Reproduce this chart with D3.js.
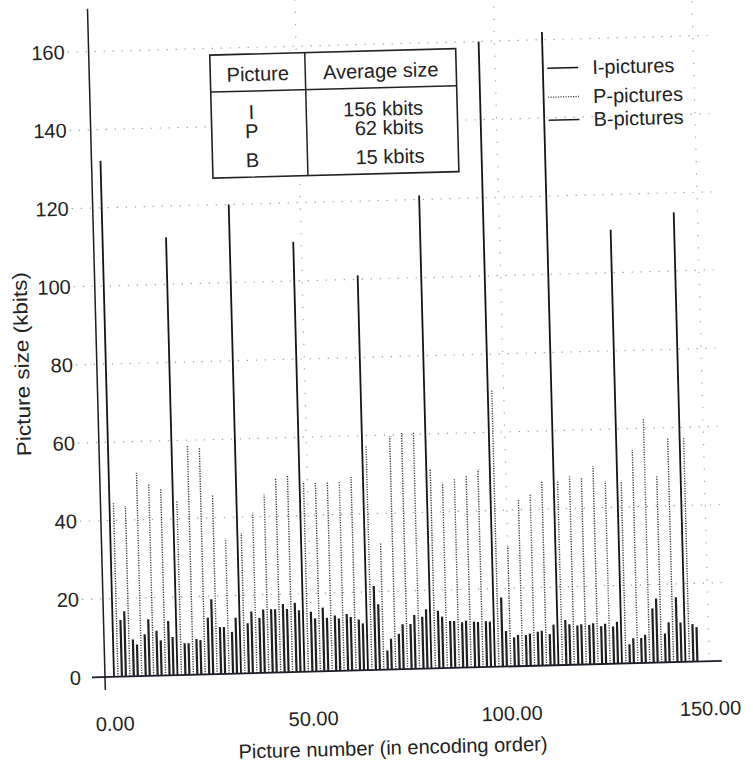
<!DOCTYPE html>
<html>
<head>
<meta charset="utf-8">
<script src="https://cdn.jsdelivr.net/npm/d3@7"></script>
<style>
  body { margin: 0; background: #fff; }
  svg { display: block; }
  text { font-family: "Liberation Sans", Arial, Helvetica, sans-serif; fill: #222; }
</style>
</head>
<body>
<div id="chart"></div>
<script>
// GOP structure in encoding order (one letter per picture)
var gopPattern = "IPBBPBBPBBPBBPBB";

// picture sizes in kbits, in encoding order per type
var iSizes = [132, 112, 120, 110, 101, 121, 160, 162, 111, 115];
var pSizes = [
  44.4, 43.6, 52, 49, 47.9,
  44.4, 58.5, 58.1, 45.7, 34.6,
  35.9, 41, 45.6, 49.6, 50.4,
  48.7, 48.2, 48.4, 48.2, 49.5,
  57.5, 32.6, 59.6, 60.4, 60.7,
  50.8, 47.4, 48.2, 49.2, 50.6,
  71, 30.9, 42.5, 43.9, 47,
  47.2, 48.2, 47.7, 50.7, 46.8,
  46.7, 54.5, 62.6, 47.6, 57.4,
  57.6
];
var bSizes = [
  14.5, 16.7, 9.4, 8.1, 10.7, 14.5, 11.5, 9, 13.9, 9.8,
  8.1, 8.1, 9.1, 8.8, 14.5, 19.2, 12, 12, 10.7, 14.3,
  12.8, 15.8, 14.1, 16.2, 16.2, 16.2, 17.5, 16.2, 17.7, 15.8,
  15.3, 13.6, 16.3, 13.7, 14.2, 13.4, 14.5, 13.7, 13, 12,
  21.5, 16.8, 4.9, 7.9, 9.1, 11.5, 11.5, 13.8, 13.3, 15.2,
  14.7, 13.2, 12, 12, 11.6, 12, 11.7, 11.6, 11.7, 11.6,
  17.7, 9.1, 7.4, 8, 7.9, 8.3, 8.7, 8.9, 8, 10.4,
  11.5, 10.4, 10, 10.3, 10.1, 10.5, 9.7, 10.3, 9.5, 10.7,
  4.9, 6.4, 6.4, 7.2, 13.9, 16.4, 7.4, 10.2, 16.6, 10.1,
  9.6, 8.8
];

var yTicks = [0, 20, 40, 60, 80, 100, 120, 140, 160];
var xTicks = [0, 50, 100, 150];
var xTickLabels = ["0.00", "50.00", "100.00", "150.00"];
var xTitle = "Picture number (in encoding order)";
var yTitle = "Picture size (kbits)";

var tableHead = ["Picture", "Average size"];
var tableTypes = ["I", "P", "B"];
var tableAvg = ["156 kbits", "62 kbits", "15 kbits"];

var legendTypes = ["I", "P", "B"];
var legendLabels = ["I-pictures", "P-pictures", "B-pictures"];

// build the picture sequence from the per-type lists
var pictures = [];
(function () {
  var idx = { I: 0, P: 0, B: 0 };
  var src = { I: iSizes, P: pSizes, B: bSizes };
  for (var n = 0; ; n++) {
    var t = gopPattern[n % gopPattern.length];
    if (idx[t] >= src[t].length) break;
    pictures.push({ n: n, type: t, kbits: src[t][idx[t]++] });
  }
})();

var width = 753, height = 765;
var x0 = 107, y0 = 677;   // axis corner (scan is slightly tilted about it)

var x = d3.scaleLinear().domain([0, 150]).range([114, 709.5]);
var y = d3.scaleLinear().domain([0, 160]).range([y0, 51.4]);

var style = {
  I: { stroke: "#151515", width: 1.8, dash: null },
  P: { stroke: "#3a3a3a", width: 1.4, dash: "1.2,1.3" },
  B: { stroke: "#1f1f1f", width: 2.2, dash: null }
};

var svg = d3.select("#chart").append("svg")
    .attr("width", width)
    .attr("height", height);

var g = svg.append("g")
    .attr("transform", "rotate(-1.5," + x0 + "," + y0 + ")");

// dotted grid
g.append("g").selectAll("line").data(yTicks.slice(1)).enter().append("line")
    .attr("x1", 84).attr("x2", 724)
    .attr("y1", function (d) { return y(d); })
    .attr("y2", function (d) { return y(d); })
    .style("stroke", "#a0a0a0").style("stroke-width", 1.2)
    .style("stroke-dasharray", "1.3,7.7");

g.append("g").selectAll("line").data(xTicks.slice(1)).enter().append("line")
    .attr("x1", function (d) { return x(d); })
    .attr("x2", function (d) { return x(d); })
    .attr("y1", y(172)).attr("y2", y(0))
    .style("stroke", "#a8a8a8").style("stroke-width", 1.2)
    .style("stroke-dasharray", "1.3,11");

// picture sizes
g.append("g").selectAll("line").data(pictures).enter().append("line")
    .attr("x1", function (d) { return x(d.n); })
    .attr("x2", function (d) { return x(d.n); })
    .attr("y1", y(0))
    .attr("y2", function (d) { return y(d.kbits); })
    .style("stroke", function (d) { return style[d.type].stroke; })
    .style("stroke-width", function (d) { return style[d.type].width; })
    .style("stroke-dasharray", function (d) { return style[d.type].dash; });

// axes lines
g.append("line")
    .attr("x1", 92).attr("x2", 722)
    .attr("y1", y(0)).attr("y2", y(0))
    .style("stroke", "#1d1d28").style("stroke-width", 1.8);
g.append("line")
    .attr("x1", x0 - 2).attr("x2", x0 - 2)
    .attr("y1", y(171)).attr("y2", y(-3.3))
    .style("stroke", "#1d1d1d").style("stroke-width", 1.5);

// y tick labels
g.append("g").selectAll("text").data(yTicks).enter().append("text")
    .attr("x", 81)
    .attr("y", function (d) { return y(d); })
    .attr("dy", "0.35em")
    .attr("text-anchor", "end")
    .style("font-size", "20px")
    .text(function (d) { return d; });

// x tick labels
g.append("g").selectAll("text").data(xTicks).enter().append("text")
    .attr("x", function (d) { return x(d); })
    .attr("y", 731)
    .attr("text-anchor", "middle")
    .style("font-size", "20px")
    .text(function (d, i) { return xTickLabels[i]; });

// axis titles
g.append("text")
    .attr("x", 391).attr("y", 762)
    .attr("text-anchor", "middle")
    .style("font-size", "20px")
    .text(xTitle);

g.append("text")
    .attr("transform", "translate(37,362) rotate(-90)")
    .attr("text-anchor", "middle")
    .attr("textLength", 184)
    .attr("lengthAdjust", "spacingAndGlyphs")
    .style("font-size", "20px")
    .text(yTitle);

// average size table
var tb = g.append("g");
tb.append("rect")
    .attr("x", 226).attr("y", 58).attr("width", 246).attr("height", 123)
    .style("fill", "#fff").style("stroke", "#222").style("stroke-width", 1.6);
tb.append("line").attr("x1", 321).attr("x2", 321).attr("y1", 58).attr("y2", 181)
    .style("stroke", "#222").style("stroke-width", 1.5);
tb.append("line").attr("x1", 226).attr("x2", 472).attr("y1", 95).attr("y2", 95)
    .style("stroke", "#222").style("stroke-width", 1.5);
tb.selectAll("text.head").data(tableHead).enter().append("text")
    .attr("class", "head")
    .attr("x", function (d, i) { return i === 0 ? 273.5 : 396.5; })
    .attr("y", 85)
    .attr("text-anchor", "middle")
    .style("font-size", "20px")
    .text(function (d) { return d; });
var rowY = [123, 142, 171];
tb.selectAll("text.type").data(tableTypes).enter().append("text")
    .attr("class", "type")
    .attr("x", 266)
    .attr("y", function (d, i) { return rowY[i]; })
    .attr("text-anchor", "middle")
    .style("font-size", "20px")
    .text(function (d) { return d; });
tb.selectAll("text.avg").data(tableAvg).enter().append("text")
    .attr("class", "avg")
    .attr("x", 438)
    .attr("y", function (d, i) { return rowY[i]; })
    .attr("text-anchor", "end")
    .style("font-size", "20px")
    .text(function (d) { return d; });

// legend
var legY = [80, 109, 132];
var lg = g.append("g");
lg.selectAll("line").data(legendTypes).enter().append("line")
    .attr("x1", 563).attr("x2", 594)
    .attr("y1", function (d, i) { return legY[i]; })
    .attr("y2", function (d, i) { return legY[i]; })
    .style("stroke", function (d) { return style[d].stroke; })
    .style("stroke-width", function (d) { return d === "P" ? 1.2 : 1.5; })
    .style("stroke-dasharray", function (d) { return style[d].dash; });
lg.selectAll("text").data(legendLabels).enter().append("text")
    .attr("x", 608)
    .attr("y", function (d, i) { return legY[i] + 7; })
    .style("font-size", "20px")
    .text(function (d) { return d; });
</script>
</body>
</html>
